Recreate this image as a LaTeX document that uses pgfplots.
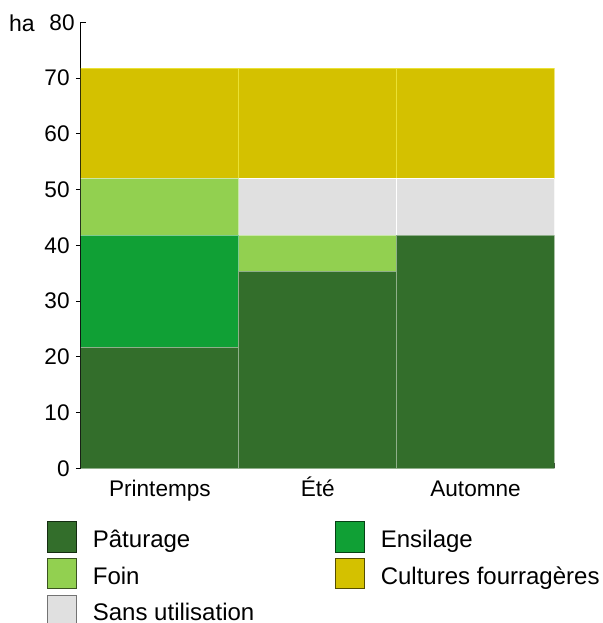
\documentclass[border=0pt]{standalone}
\usepackage{fontspec}
\setmainfont{Liberation Sans}
\usepackage{pgfplots}
\pgfplotsset{compat=1.18}
\usetikzlibrary{calc}

\definecolor{paturage}{HTML}{336E2B}
\definecolor{ensilage}{HTML}{10A035}
\definecolor{foin}{HTML}{92D050}
\definecolor{sansutil}{HTML}{E0E0E0}
\definecolor{cultures}{HTML}{D4C100}

\begin{document}
\begin{tikzpicture}
\begin{axis}[
    ybar stacked,
    bar width=1,
    scale only axis,
    width=236.75pt,
    height=223pt,
    xmin=-0.5, xmax=2.5,
    ymin=0, ymax=80,
    axis x line*=bottom,
    axis y line*=left,
    axis line style={line width=0.5pt, black},
    xtick={-0.5,0.5,1.5,2.5},
    xticklabels={Printemps, Été, Automne},
    x tick label as interval,
    xtick align=inside,
    ytick align=outside,
    ytick={0,10,...,70},
    extra y ticks={80},
    extra y tick style={ytick align=inside},
    major tick length=2.5pt,
    tick style={line width=0.5pt, black},
    /pgf/number format/assume math mode=true,
    ticklabel style={font=\fontsize{11.3}{13}\selectfont},
    xticklabel style={anchor=base, inner sep=0pt, yshift=-14.2pt},
    yticklabel style={anchor=east, inner sep=0pt, xshift=-3pt},
    legend columns=2,
    legend cell align=left,
    legend style={
      at={(axis description cs:0,0)},
      anchor=north west,
      xshift=-17pt, yshift=-26.5pt,
      draw=none, fill=none,
      inner sep=0pt, outer sep=0pt,
      column sep=0pt, row sep=2.6pt,
      font=\fontsize{12}{14}\selectfont,
      nodes={inner sep=0pt, outer sep=0pt},
      cells={anchor=base west},
    },
    legend image code/.code={
      \draw[#1, line width=0.5pt] (0pt,-2.4pt) rectangle (14.75pt,12.8pt);
      \path (22.5pt,0pt);
    },
  ]

  % stacked from the bottom: Paturage, Ensilage, Foin, Sans utilisation, Cultures
  \addplot[forget plot, fill=paturage, draw=paturage!55!white, line width=0.5pt]
    coordinates {(0,21.6) (1,35.3) (2,41.8)};
  \addplot[forget plot, fill=ensilage, draw=ensilage!55!white, line width=0.5pt]
    coordinates {(0,20.2) (1,0) (2,0)};
  \addplot[forget plot, fill=foin, draw=foin!50!white, line width=0.5pt]
    coordinates {(0,10.2) (1,6.5) (2,0)};
  \addplot[forget plot, fill=sansutil, draw=white, line width=0.5pt]
    coordinates {(0,0) (1,10.2) (2,10.2)};
  \addplot[forget plot, fill=cultures, draw=cultures!60!yellow!80!white, line width=0.5pt]
    coordinates {(0,19.8) (1,19.8) (2,19.8)};

  % legend in the order of the reference
  \addlegendimage{fill=paturage, draw=paturage!40!black}
  \addlegendentry{\makebox[121pt][l]{Pâturage}}
  \addlegendimage{fill=ensilage, draw=ensilage!40!black}
  \addlegendentry{Ensilage}
  \addlegendimage{fill=foin, draw=foin!40!black}
  \addlegendentry{\makebox[121pt][l]{Foin}}
  \addlegendimage{fill=cultures, draw=cultures!40!black}
  \addlegendentry{Cultures fourragères}
  \addlegendimage{fill=sansutil, draw=black!55}
  \addlegendentry{\makebox[121pt][l]{Sans utilisation}}

  \coordinate (O) at (axis cs:-0.5,0);
  \coordinate (T) at (axis cs:-0.5,80);
\end{axis}
\node[anchor=base east, inner sep=0pt, font=\fontsize{11.5}{13}\selectfont]
  at ($(T)+(-23pt,-4.5pt)$) {ha};
\pgfresetboundingbox
\path ($(O)+(-40.5pt,234.15pt)$) rectangle ($(O)+(260.5pt,-77.35pt)$);
\end{tikzpicture}
\end{document}
